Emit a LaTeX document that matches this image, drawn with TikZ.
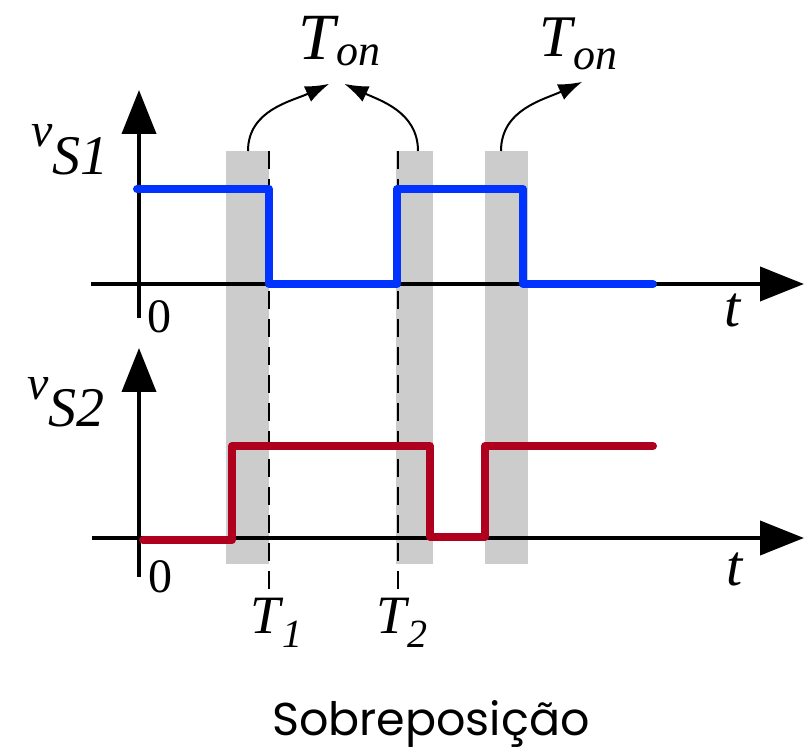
\documentclass[tikz,border=0pt]{standalone}
\usepackage{fontspec}
\setmainfont{Liberation Serif}
\newfontfamily\capfont{Poppins}
\usetikzlibrary{arrows.meta}
\definecolor{sigblue}{RGB}{0,51,255}
\definecolor{sigred}{RGB}{175,0,30}

\begin{document}
\begin{tikzpicture}[x=0.5pt, y=-0.5pt,
  band/.style={fill=gray!40},
  guide/.style={line width=0.75pt, dash pattern=on 9pt off 5pt},
  axis/.style={line width=2pt, -{Triangle[length=22pt, width=17pt]}},
  sig/.style={line width=4pt, line cap=round, line join=round},
  lbl/.style={font=\itshape, inner sep=0pt, anchor=base west},
  curl/.style={line width=1pt, -{Latex[length=12pt, width=8.5pt]}}]
\useasboundingbox (0,0) rectangle (804,754);
\newcommand\fs[1]{\fontsize{#1}{#1}\selectfont}
% overlap bands
\foreach \n/\a/\b/\s in {1/226/269/248, 2/396/433/418, 3/485/528/501} {
  \fill[band] (\a,151) rectangle (\b,564);
  \coordinate (top\n) at (\s,151);
}
\foreach \x in {269,398} \draw[guide] (\x,151) -- (\x,590);
% axes
\draw[axis] (139,318) -- (139,90);
\draw[axis] (91,284) -- (804,284);
\draw[axis] (139,577) -- (139,348);
\draw[axis] (92,538) -- (804,538);
% switch signals
\draw[sig, sigblue] (137,189) -| (269,284) -| (397,189) -| (523,284) -- (653,284);
\draw[sig, sigred] (143,540) -| (232,446) -| (430,537) -| (485,446) -- (653,446);
% labels
\node[lbl] (vs1) at (31,147) {\fs{24pt}v\raisebox{-14pt}{\fs{28pt}S1}};
\node[lbl] (vs2) at (27,400) {\fs{24pt}v\raisebox{-13.5pt}{\fs{28pt}S2}};
\node[lbl, font=\upshape] (zero1) at (147,333) {\fs{24pt}0};
\node[lbl, font=\upshape] (zero2) at (148,592) {\fs{24pt}0};
\node[lbl] (time1) at (724,327) {\fs{29pt}t};
\node[lbl] (time2) at (726,585) {\fs{29pt}t};
\node[lbl] (t1) at (250,633) {\fs{27pt}T\kern1pt\raisebox{-7pt}{\fs{20pt}1}};
\node[lbl] (t2) at (376,633) {\fs{27pt}T\kern0.5pt\raisebox{-7pt}{\fs{20pt}2}};
\node[lbl] (ton1) at (298,60) {\fs{33pt}T\kern0.5pt\raisebox{-3pt}{\fs{22pt}on}};
\node[lbl] (ton2) at (539,57) {\fs{29.5pt}T\kern0.5pt\raisebox{-6.5pt}{\fs{22pt}on}};
\draw[curl] (top1) to[out=90, in=205] ([shift={(-10,17)}]ton1.south);
\draw[curl] (top2) to[out=90, in=-25] ([shift={(5,17)}]ton1.south);
\draw[curl] (top3) to[out=90, in=205] ([shift={(4,11)}]ton2.south);
\node[font=\capfont\fs{23pt}, inner sep=0pt, anchor=base] (title) at (431,735) {Sobreposição};
\end{tikzpicture}
\end{document}
